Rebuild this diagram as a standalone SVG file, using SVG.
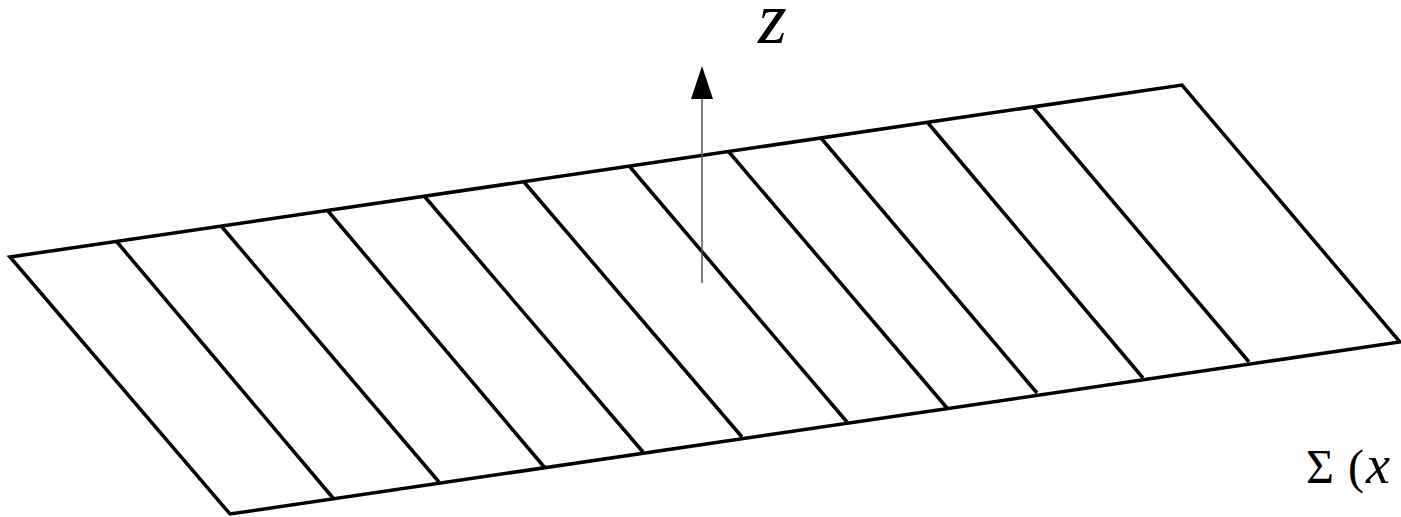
<svg xmlns="http://www.w3.org/2000/svg" width="1401" height="517" viewBox="0 0 1401 517">
<defs>
<style>
.edge{stroke:#000;stroke-width:3.5;fill:none;stroke-linejoin:miter}
.div{stroke:#000;stroke-width:3.5;fill:none}
.axis{stroke:#555;stroke-width:1.5;fill:none}
.lbl{font-family:"Liberation Serif",serif;fill:#000}
</style>
</defs>
<g id="plane">
<polygon class="edge" points="10,257 1182,85 1400,342 230,514"/>
</g>
<g id="strips">
<line class="div" x1="117" y1="242" x2="333" y2="498"/>
<line class="div" x1="222" y1="227" x2="439" y2="482"/>
<line class="div" x1="328" y1="211" x2="545" y2="468"/>
<line class="div" x1="425" y1="197" x2="643" y2="452"/>
<line class="div" x1="524" y1="182" x2="742" y2="437"/>
<line class="div" x1="630" y1="167" x2="847" y2="422"/>
<line class="div" x1="729" y1="152" x2="947" y2="408"/>
<line class="div" x1="821" y1="138" x2="1037" y2="393"/>
<line class="div" x1="928" y1="123" x2="1143" y2="378"/>
<line class="div" x1="1033" y1="107" x2="1249" y2="362"/>
</g>
<g id="axis">
<line class="axis" x1="702" y1="283" x2="702" y2="99"/>
<path d="M702,66 L713,99 L691,99 Z" fill="#000"/>
</g>
<g id="label-z">
<text class="lbl" x="758" y="43" font-size="74" font-style="italic">z</text>
</g>
<g id="label-sigma">
<text class="lbl" y="483" font-size="48"><tspan x="1306">Σ</tspan><tspan x="1348">(</tspan><tspan x="1366" font-size="54" font-style="italic">x</tspan></text>
</g>
</svg>
